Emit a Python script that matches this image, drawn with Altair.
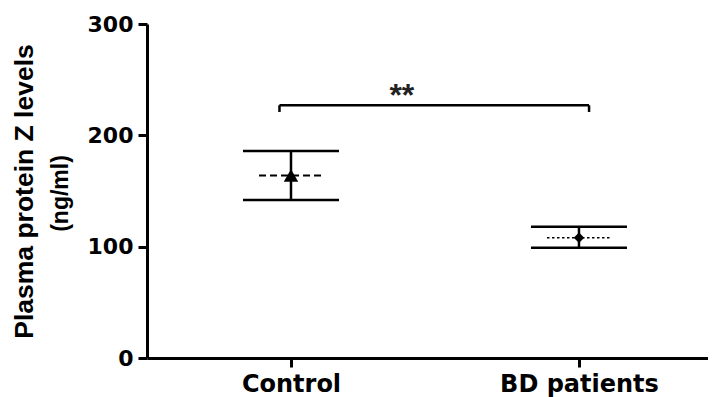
import altair as alt
import pandas as pd

# ---- data ----
groups = ["Control", "BD patients"]
positions = [1, 2]
means = [164, 108]
upper = [186, 118]
lower = [142, 99]
y_ticks = [0, 100, 200, 300]
bracket_x = [0.96, 2.035]
bracket_top = 227
bracket_bottom = 221
sig_label = "**"
sig_x = 1.385
sig_y = 240
y_title = ["Plasma protein Z levels", "(ng/ml)"]

df = pd.DataFrame({"group": groups, "pos": positions, "mean": means,
                   "upper": upper, "lower": lower})

label_expr = "[" + ",".join(f"'{g}'" for g in groups) + "][datum.value - 1]"
x_scale = alt.Scale(domain=[0.5, 2.448], nice=False, zero=False)
y_scale = alt.Scale(domain=[0, 300], nice=False)
x_axis = alt.Axis(values=positions, labelExpr=label_expr, labelFontSize=24,
                  labelPadding=5, title=None)
y_axis = alt.Axis(values=y_ticks, labelFontSize=22, labelPadding=5, title=None)


def X(field):
    return alt.X(field, scale=x_scale, axis=x_axis, title=None)


def Y(field):
    return alt.Y(field, scale=y_scale, axis=y_axis, title=None)


base = alt.Chart(df)

whisker = base.mark_rule(color="black", strokeWidth=2.5).encode(
    x=X("pos:Q"), y=Y("lower:Q"), y2="upper:Q")

caps = base.transform_fold(["upper", "lower"], as_=["k", "v"]).transform_calculate(
    xl="datum.pos - 0.1667", xr="datum.pos + 0.1667"
).mark_rule(color="black", strokeWidth=2.5).encode(
    x=X("xl:Q"), x2="xr:Q", y=Y("v:Q"))

mean_base = base.transform_calculate(ml="datum.pos - 0.111", mr="datum.pos + 0.111")
mean_ctrl = mean_base.transform_filter(f"datum.group == '{groups[0]}'").mark_rule(
    color="black", strokeWidth=2, strokeDash=[7, 4]).encode(
    x=X("ml:Q"), x2="mr:Q", y=Y("mean:Q"))
mean_bd = mean_base.transform_filter(f"datum.group == '{groups[1]}'").mark_rule(
    color="black", strokeWidth=1.6, strokeDash=[2.5, 2.5]).encode(
    x=X("ml:Q"), x2="mr:Q", y=Y("mean:Q"))

pt_ctrl = base.transform_filter(f"datum.group == '{groups[0]}'").mark_point(
    shape="triangle-up", size=210, filled=True, color="black", opacity=1).encode(
    x=X("pos:Q"), y=Y("mean:Q"))
pt_bd = base.transform_filter(f"datum.group == '{groups[1]}'").mark_point(
    shape="diamond", size=110, filled=True, color="black", opacity=1).encode(
    x=X("pos:Q"), y=Y("mean:Q"))

br_df = pd.DataFrame({"x1": [bracket_x[0]], "x2": [bracket_x[1]], "y": [bracket_top]})
bracket = alt.Chart(br_df).mark_rule(color="black", strokeWidth=2.5).encode(
    x=X("x1:Q"), x2="x2:Q", y=Y("y:Q"))
legs_df = pd.DataFrame({"x": bracket_x, "y1": [bracket_bottom] * 2,
                        "y2": [bracket_top] * 2})
legs = alt.Chart(legs_df).mark_rule(color="black", strokeWidth=2.5).encode(
    x=X("x:Q"), y=Y("y1:Q"), y2="y2:Q")

sig_df = pd.DataFrame({"x": [sig_x], "y": [sig_y], "t": [sig_label]})
sig = alt.Chart(sig_df).mark_text(font="Liberation Sans", fontWeight="bold",
                                  fontSize=32, color="#222", baseline="middle",
                                  dy=5).encode(
    x=X("x:Q"), y=Y("y:Q"), text="t:N")

t1 = alt.Chart(pd.DataFrame({"t": [y_title[0]]})).mark_text(
    angle=270, font="Liberation Sans", fontWeight="bold", fontSize=26.5,
    color="black", align="center", baseline="middle").encode(
    x=alt.value(-122), y=alt.value(167.5), text="t:N")
t2 = alt.Chart(pd.DataFrame({"t": [y_title[1]]})).mark_text(
    angle=270, font="Liberation Sans", fontWeight="bold", fontSize=23,
    color="black", align="center", baseline="middle").encode(
    x=alt.value(-86), y=alt.value(169.5), text="t:N")

chart = alt.layer(whisker, caps, mean_ctrl, mean_bd, pt_ctrl, pt_bd, bracket,
                  legs, sig, t1, t2).properties(
    width=561, height=334,
    autosize=alt.AutoSizeParams(type="none"),
    padding={"left": 139, "top": 16, "right": 0, "bottom": 39},
    background="white",
).configure_view(stroke=None).configure_axis(
    grid=False, domainColor="black", domainWidth=3, tickColor="black",
    tickWidth=3, tickSize=9, labelFont="DejaVu Sans", labelFontWeight="bold",
    labelColor="black",
)

chart.save("out.html", embed_options={"renderer": "svg", "actions": False})
